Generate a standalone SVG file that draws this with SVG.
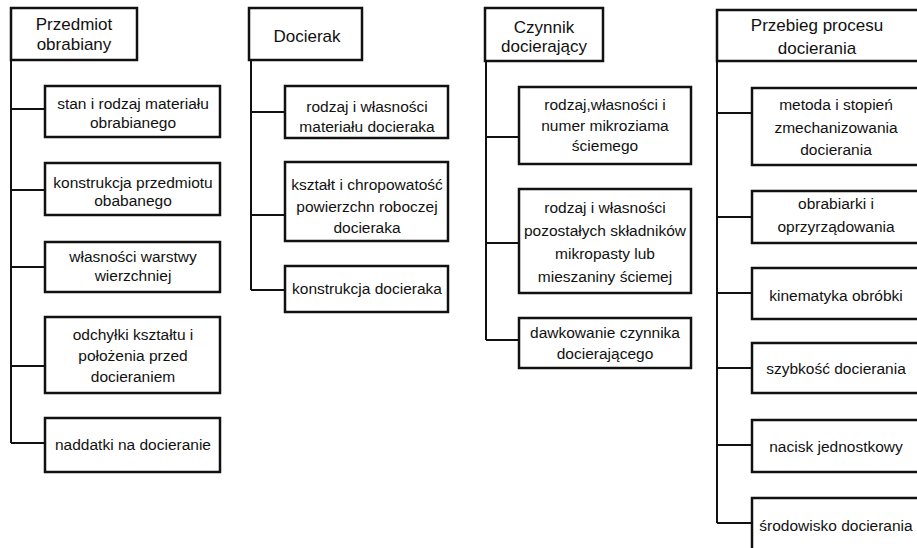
<svg xmlns="http://www.w3.org/2000/svg" width="917" height="548" viewBox="0 0 917 548">
<style>
.box{fill:#fff;stroke:#111;stroke-width:2.5}
.con{fill:none;stroke:#111;stroke-width:2}
.h{font-family:"Liberation Sans",Arial,sans-serif;font-size:17px;fill:#111;text-anchor:middle}
.t{font-family:"Liberation Sans",Arial,sans-serif;font-size:15.5px;fill:#111;text-anchor:middle}
</style>
<rect width="917" height="548" fill="#fff"/>
<g id="connectors">
<path class="con" d="M11,60 V443 M11,109 H45 M11,190 H45 M11,267 H45 M11,366 H45 M11,443 H45"/>
<path class="con" d="M251,60 V290 M251,112 H285 M251,215 H285 M251,290 H285"/>
<path class="con" d="M486,61 V340 M486,137 H519 M486,243 H519 M486,340 H519"/>
<path class="con" d="M717,61 V523 M717,113 H752 M717,217 H752 M717,293 H752 M717,368 H752 M717,445 H752 M717,523 H752"/>
</g>
<g id="col1-header"><rect class="box" x="11" y="8" width="126" height="52"/><text class="h" x="74" y="30">Przedmiot</text><text class="h" x="74" y="50">obrabiany</text></g>
<g id="col1-n1"><rect class="box" x="45" y="86" width="175" height="51"/><text class="t" x="133" y="109">stan i rodzaj materiału</text><text class="t" x="133" y="128">obrabianego</text></g>
<g id="col1-n2"><rect class="box" x="45" y="163" width="175" height="52"/><text class="t" x="133" y="188">konstrukcja przedmiotu</text><text class="t" x="133" y="206">obabanego</text></g>
<g id="col1-n3"><rect class="box" x="45" y="242" width="175" height="50"/><text class="t" x="133" y="262">własności warstwy</text><text class="t" x="133" y="281">wierzchniej</text></g>
<g id="col1-n4"><rect class="box" x="45" y="317" width="175" height="76"/><text class="t" x="133" y="340">odchyłki kształtu i</text><text class="t" x="133" y="361">położenia przed</text><text class="t" x="133" y="382">docieraniem</text></g>
<g id="col1-n5"><rect class="box" x="45" y="418" width="175" height="54"/><text class="t" x="133" y="450">naddatki na docieranie</text></g>
<g id="col2-header"><rect class="box" x="249" y="8" width="113" height="52"/><text class="h" x="307" y="42">Docierak</text></g>
<g id="col2-n1"><rect class="box" x="285" y="86" width="163" height="52"/><text class="t" x="367" y="112">rodzaj i własności</text><text class="t" x="367" y="132">materiału docieraka</text></g>
<g id="col2-n2"><rect class="box" x="285" y="162" width="163" height="79"/><text class="t" x="367" y="190">kształt i chropowatość</text><text class="t" x="367" y="212">powierzchn roboczej</text><text class="t" x="367" y="233">docieraka</text></g>
<g id="col2-n3"><rect class="box" x="285" y="266" width="163" height="46"/><text class="t" x="367" y="294">konstrukcja docieraka</text></g>
<g id="col3-header"><rect class="box" x="485" y="8" width="118" height="53"/><text class="h" x="544" y="33">Czynnik</text><text class="h" x="544" y="52">docierający</text></g>
<g id="col3-n1"><rect class="box" x="519" y="87" width="172" height="77"/><text class="t" x="605" y="110">rodzaj,własności i</text><text class="t" x="605" y="131">numer mikroziama</text><text class="t" x="605" y="151">ściemego</text></g>
<g id="col3-n2"><rect class="box" x="519" y="189" width="172" height="104"/><text class="t" x="605" y="213">rodzaj i własności</text><text class="t" x="605" y="236">pozostałych składników</text><text class="t" x="605" y="259">mikropasty lub</text><text class="t" x="605" y="282">mieszaniny ściemej</text></g>
<g id="col3-n3"><rect class="box" x="519" y="318" width="172" height="50"/><text class="t" x="605" y="338">dawkowanie czynnika</text><text class="t" x="605" y="359">docierającego</text></g>
<g id="col4-header"><rect class="box" x="717" y="10" width="202" height="51"/><text class="h" x="817" y="31">Przebieg procesu</text><text class="h" x="817" y="54">docierania</text></g>
<g id="col4-n1"><rect class="box" x="752" y="88" width="170" height="77"/><text class="t" x="836" y="110">metoda i stopień</text><text class="t" x="836" y="133">zmechanizowania</text><text class="t" x="836" y="155">docierania</text></g>
<g id="col4-n2"><rect class="box" x="752" y="191" width="170" height="52"/><text class="t" x="836" y="209">obrabiarki i</text><text class="t" x="836" y="232">oprzyrządowania</text></g>
<g id="col4-n3"><rect class="box" x="752" y="268" width="170" height="51"/><text class="t" x="836" y="301">kinematyka obróbki</text></g>
<g id="col4-n4"><rect class="box" x="752" y="343" width="170" height="50"/><text class="t" x="836" y="374">szybkość docierania</text></g>
<g id="col4-n5"><rect class="box" x="752" y="420" width="170" height="52"/><text class="t" x="836" y="452">nacisk jednostkowy</text></g>
<g id="col4-n6"><rect class="box" x="752" y="498" width="170" height="62"/><text class="t" x="836" y="531">środowisko docierania</text></g>
</svg>
